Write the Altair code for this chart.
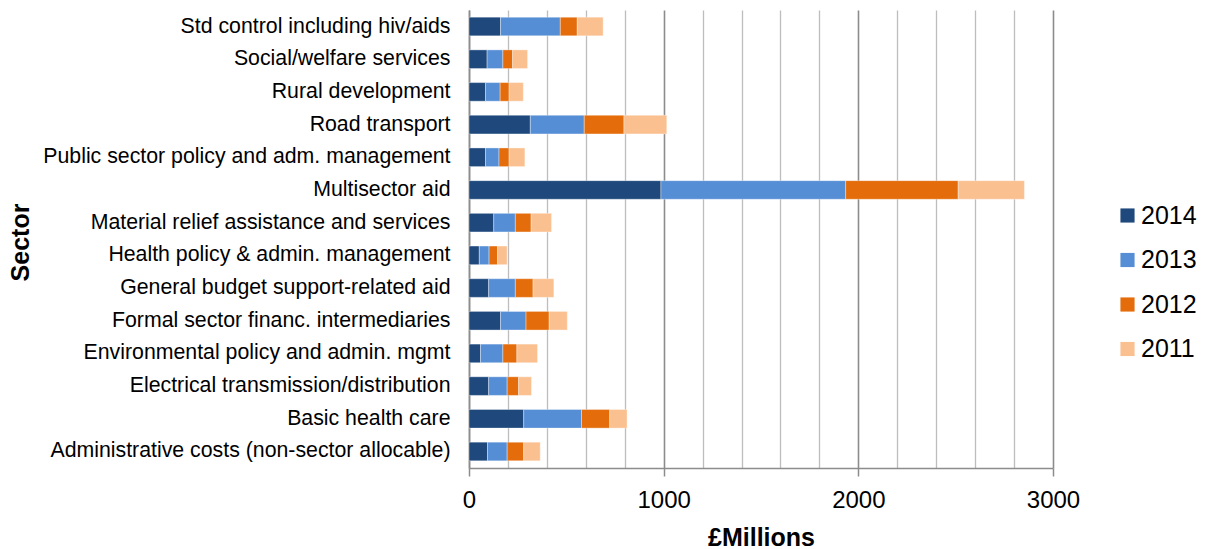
import altair as alt
import pandas as pd

# Sectors, listed top to bottom as drawn
sectors = [
    "Std control including hiv/aids",
    "Social/welfare services",
    "Rural development",
    "Road transport",
    "Public sector policy and adm. management",
    "Multisector aid",
    "Material relief assistance and services",
    "Health policy & admin. management",
    "General budget support-related aid",
    "Formal sector financ. intermediaries",
    "Environmental policy and admin. mgmt",
    "Electrical transmission/distribution",
    "Basic health care",
    "Administrative costs (non-sector allocable)",
]

years = ["2014", "2013", "2012", "2011"]
colors = ["#1F497D", "#558ED5", "#E46C0A", "#FAC090"]

# Spend per year (£ millions)
v2014 = [162, 93, 85, 315, 85, 986, 127, 53, 101, 162, 59, 101, 281, 95]
v2013 = [307, 81, 75, 277, 69, 949, 111, 50, 137, 131, 115, 95, 297, 101]
v2012 = [87, 50, 46, 204, 52, 578, 81, 44, 91, 119, 72, 59, 145, 85]
v2011 = [133, 77, 73, 220, 81, 340, 105, 49, 107, 93, 106, 66, 89, 85]

series = {"2014": v2014, "2013": v2013, "2012": v2012, "2011": v2011}

rows = []
for rank, year in enumerate(years):
    for sector, value in zip(sectors, series[year]):
        rows.append({"Sector": sector, "Year": year, "Value": value, "rank": rank})
df = pd.DataFrame(rows)

FONT = "Liberation Sans"
PLOT_W, PLOT_H = 584, 458
LEFT, TOP = 469, 10

chart = (
    alt.Chart(df)
    .mark_bar(stroke="white", strokeWidth=0.6, strokeOpacity=0.6)
    .encode(
        y=alt.Y(
            "Sector:N",
            sort=sectors,
            title="Sector",
            scale=alt.Scale(paddingInner=0.43, paddingOuter=0.22),
            axis=alt.Axis(
                labelFontSize=21.3,
                labelPadding=19,
                labelColor="#000000",
                labelLimit=500,
                ticks=False,
                domainColor="#8c8c8c",
                domainWidth=1.5,
                titleFontSize=25,
                titleFontWeight="bold",
                titleColor="#000000",
                titleX=-449,
                titleY=232,
                titleAngle=-90,
                titleAlign="center",
                titleBaseline="middle",
            ),
        ),
        x=alt.X(
            "Value:Q",
            stack="zero",
            title="£Millions",
            scale=alt.Scale(domain=[0, 3000], nice=False),
            axis=alt.Axis(
                values=list(range(0, 3001, 200)),
                labelExpr="datum.value % 1000 === 0 ? datum.value : ''",
                labelFontSize=24,
                labelColor="#000000",
                labelPadding=12,
                labelFlush=False,
                tickSize=8,
                tickColor="#8c8c8c",
                tickWidth=1.5,
                tickOpacity=alt.expr("datum.value % 1000 === 0 ? 1 : 0"),
                grid=True,
                gridColor=alt.expr("datum.value % 1000 === 0 ? '#8c8c8c' : '#bdbdbd'"),
                gridWidth=alt.expr("datum.value % 1000 === 0 ? 1.6 : 1.3"),
                domainColor="#8c8c8c",
                domainWidth=1.5,
                titleFontSize=25,
                titleFontWeight="bold",
                titleColor="#000000",
                titleY=69,
                titleBaseline="middle",
            ),
        ),
        color=alt.Color(
            "Year:N",
            scale=alt.Scale(domain=years, range=colors),
            legend=alt.Legend(
                title=None,
                orient="none",
                legendX=646,
                legendY=193,
                symbolType="square",
                symbolSize=200,
                symbolStrokeWidth=0,
                labelFontSize=25,
                labelColor="#000000",
                labelOffset=1,
                rowPadding=18.5,
            ),
        ),
        order=alt.Order("rank:Q", sort="ascending"),
    )
    .properties(
        width=PLOT_W,
        height=PLOT_H,
        autosize=alt.AutoSizeParams(type="none"),
        padding={
            "left": LEFT,
            "top": TOP,
            "right": 1211 - LEFT - PLOT_W,
            "bottom": 549 - TOP - PLOT_H,
        },
    )
    .configure(font=FONT, background="white")
    .configure_view(stroke=None)
)

chart.save("out.html", embed_options={"renderer": "svg", "actions": False})
